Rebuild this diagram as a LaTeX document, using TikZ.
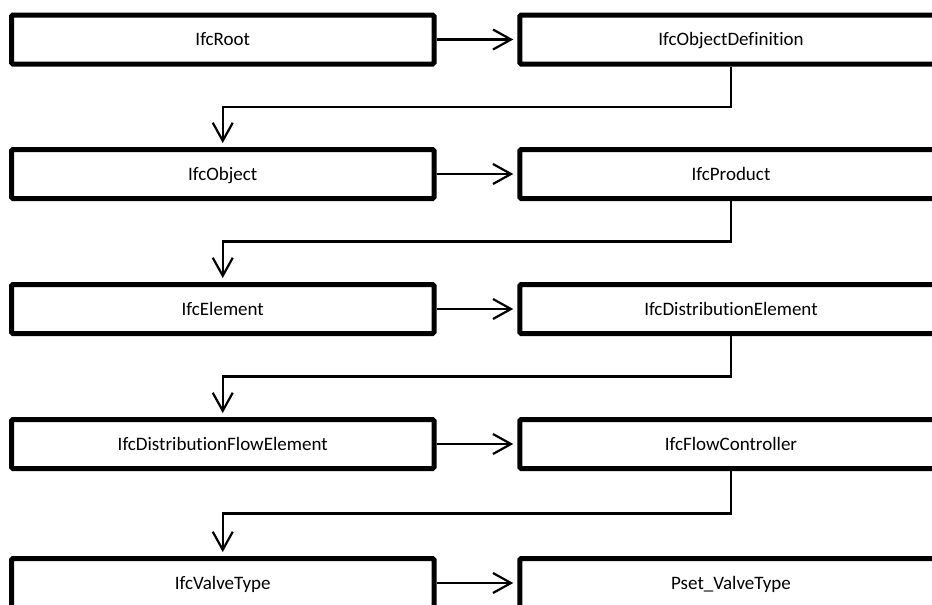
\documentclass[tikz,border=0pt]{standalone}
\usepackage{fontspec}
\setmainfont[Ligatures=NoCommon]{Carlito}
\usetikzlibrary{arrows.meta,calc}
\begin{document}
\begin{tikzpicture}[x=1pt,y=-1pt,
  classbox/.style={draw=black, line width=5pt, rounded corners=1.5pt,
    minimum width=422.5pt, minimum height=49pt, inner sep=0pt,
    text height=12.5pt, text depth=0pt,
    font=\fontsize{19}{22}\selectfont},
  link/.style={draw=black, line width=2.2pt, line join=miter,
    -{Straight Barb[length=18pt,width=20pt]}, shorten >=4pt},
]
\clip (0,0) rectangle (932,605);
\fill[white] (0,0) rectangle (932,605);

% left column
\node[classbox] (root)   at (222.75,39.5) {IfcRoot};
\node[classbox] (obj)    at (222.75,174)  {IfcObject};
\node[classbox] (elem)   at (222.75,309)  {IfcElement};
\node[classbox] (dfelem) at (222.75,444)  {IfcDistributionFlowElement};
\node[classbox] (valve)  at (222.75,583)  {IfcValveType};

% right column
\node[classbox] (objdef) at (731,39.5) {IfcObjectDefinition};
\node[classbox] (prod)   at (731,174)  {IfcProduct};
\node[classbox] (delem)  at (731,309)  {IfcDistributionElement};
\node[classbox] (fctrl)  at (731,444)  {IfcFlowController};
\node[classbox] (pset)   at (731,583)  {Pset\_ValveType};

% links across each row
\draw[link] (root)   -- (objdef);
\draw[link] (obj)    -- (prod);
\draw[link] (elem)   -- (delem);
\draw[link] (dfelem) -- (fctrl);
\draw[link] (valve)  -- (pset);

% links down to the next row
\coordinate (g1) at ($(objdef.south)!0.5!(obj.north)$);
\coordinate (g2) at ($(prod.south)!0.5!(elem.north)$);
\coordinate (g3) at ($(delem.south)!0.5!(dfelem.north)$);
\coordinate (g4) at ($(fctrl.south)!0.5!(valve.north)$);
\draw[link] (objdef.south) |- (g1) -| (obj.north);
\draw[link] (prod.south)   |- (g2) -| (elem.north);
\draw[link] (delem.south)  |- (g3) -| (dfelem.north);
\draw[link] (fctrl.south)  |- (g4) -| (valve.north);
\end{tikzpicture}
\end{document}
